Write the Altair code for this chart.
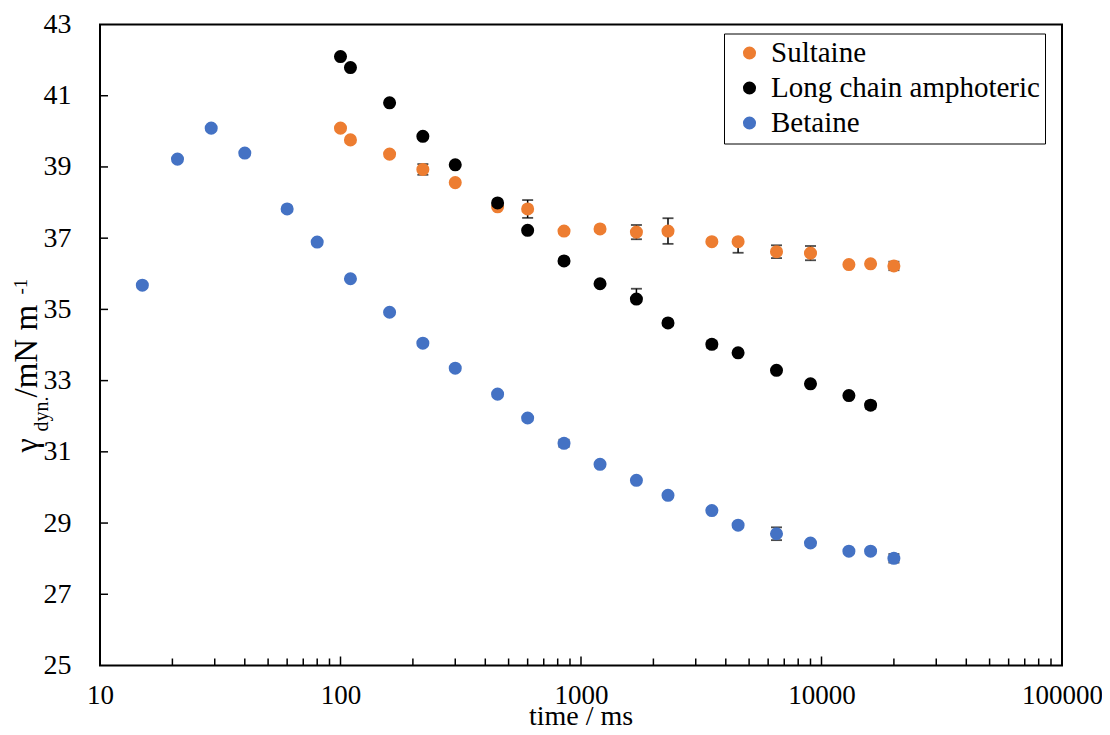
import altair as alt
import pandas as pd

# ---------------- data ----------------
series_names = ["Sultaine", "Long chain amphoteric", "Betaine"]
series_colors = ["#ED7D31", "#000000", "#4472C4"]

sult_time = [100, 110, 160, 220, 300, 450, 600, 850, 1200, 1700, 2300, 3500, 4500, 6500, 9000, 13000, 16000, 20000]
sult_gamma = [40.09, 39.76, 39.36, 38.93, 38.56, 37.88, 37.82, 37.20, 37.26, 37.17, 37.20, 36.90, 36.90, 36.62, 36.58, 36.26, 36.28, 36.22]

long_time = [100, 110, 160, 220, 300, 450, 600, 850, 1200, 1700, 2300, 3500, 4500, 6500, 9000, 13000, 16000]
long_gamma = [42.10, 41.79, 40.80, 39.86, 39.06, 37.99, 37.22, 36.36, 35.72, 35.29, 34.62, 34.02, 33.78, 33.29, 32.91, 32.58, 32.31]

bet_time = [15, 21, 29, 40, 60, 80, 110, 160, 220, 300, 450, 600, 850, 1200, 1700, 2300, 3500, 4500, 6500, 9000, 13000, 16000, 20000]
bet_gamma = [35.68, 39.22, 40.09, 39.39, 37.82, 36.89, 35.86, 34.92, 34.05, 33.35, 32.62, 31.95, 31.24, 30.65, 30.20, 29.78, 29.35, 28.94, 28.70, 28.44, 28.21, 28.21, 28.01]

err_series = ["Sultaine"] * 8 + ["Long chain amphoteric"] * 3 + ["Betaine"] * 3
err_time = [220, 600, 1700, 2300, 4500, 6500, 9000, 20000, 1700, 3500, 16000, 850, 6500, 20000]
err_low = [38.78, 37.57, 36.97, 36.84, 36.59, 36.44, 36.38, 36.10, 35.29, 33.92, 32.21, 31.14, 28.52, 27.89]
err_high = [39.08, 38.07, 37.37, 37.56, 36.90, 36.80, 36.78, 36.34, 35.58, 34.12, 32.41, 31.34, 28.88, 28.13]

x_major = [10, 100, 1000, 10000, 100000]
x_minor = [20, 30, 40, 50, 60, 70, 80, 90,
           200, 300, 400, 500, 600, 700, 800, 900,
           2000, 3000, 4000, 5000, 6000, 7000, 8000, 9000,
           20000, 30000, 40000, 50000, 60000, 70000, 80000, 90000]
x_inner_major = [100, 1000, 10000]
y_values = [25, 27, 29, 31, 33, 35, 37, 39, 41, 43]
y_inner = [27, 29, 31, 33, 35, 37, 39, 41]

x_title = "time / ms"

# ---------------- tables ----------------
rows = []
for name, ts, gs in zip(series_names, [sult_time, long_time, bet_time], [sult_gamma, long_gamma, bet_gamma]):
    for t, g in zip(ts, gs):
        rows.append({"series": name, "time": t, "gamma": g})
points = pd.DataFrame(rows)

centers = {(r["series"], r["time"]): r["gamma"] for r in rows}
err = pd.DataFrame({"series": err_series, "time": err_time, "gamma": err_low, "gamma2": err_high})
caps = []
for s, t, lo, hi in zip(err_series, err_time, err_low, err_high):
    c = centers[(s, t)]
    if lo < c - 0.005:
        caps.append({"time": t, "gamma": lo})
    if hi > c + 0.005:
        caps.append({"time": t, "gamma": hi})
caps = pd.DataFrame(caps)

minor_df = pd.DataFrame({"time": x_minor})
major_df = pd.DataFrame({"time": x_inner_major})
ytick_df = pd.DataFrame({"gamma": y_inner})

W, H = 962, 641
FONT = "Liberation Serif, Times New Roman, serif"

xscale = alt.Scale(type="log", domain=[10, 100000])
yscale = alt.Scale(domain=[25, 43], nice=False, zero=False)

xaxis = alt.Axis(values=x_major, format="d", ticks=False, tickSize=0, labelPadding=17,
                 labelFontSize=27, labelFont=FONT, title="", labelFlush=False)
yaxis = alt.Axis(values=y_values, ticks=False, tickSize=0, labelPadding=29, labelFontSize=28,
                 labelFont=FONT, labelBaseline="middle", title="")

X = alt.X("time:Q", scale=xscale, axis=xaxis)
Y = alt.Y("gamma:Q", scale=yscale, axis=yaxis)

err_rules = alt.Chart(err).mark_rule(color="black", strokeWidth=1.5).encode(
    x=X, y=Y, y2="gamma2:Q")
err_caps = alt.Chart(caps).mark_tick(color="black", orient="horizontal", size=11, thickness=1.8).encode(
    x=X, y=Y)

pts = alt.Chart(points).mark_point(filled=True, size=170, opacity=1, shape="circle").encode(
    x=X, y=Y,
    color=alt.Color("series:N",
                    scale=alt.Scale(domain=series_names, range=series_colors),
                    sort=series_names,
                    legend=alt.Legend(orient="none", legendX=624, legendY=9, title=None,
                                      labelFontSize=29, labelFont=FONT, labelLimit=500,
                                      symbolSize=170, symbolType="circle", symbolStrokeWidth=0,
                                      strokeColor="black", fillColor="white", padding=5,
                                      symbolOffset=6, labelOffset=7, rowPadding=5)),
)

minor_ticks = alt.Chart(minor_df).mark_rule(color="black", strokeWidth=1.5).encode(
    x=X, y=alt.value(H), y2=alt.value(H - 7))
major_ticks = alt.Chart(major_df).mark_rule(color="black", strokeWidth=1.5).encode(
    x=X, y=alt.value(H), y2=alt.value(H - 9))
y_ticks = alt.Chart(ytick_df).mark_rule(color="black", strokeWidth=1.5).encode(
    y=Y, x=alt.value(0), x2=alt.value(8))

one = alt.Data(values=[{"k": 1}])

# x-axis title
xt = alt.Chart(one).mark_text(text=x_title, font=FONT, fontSize=28, align="center",
                              baseline="alphabetic", color="black").encode(
    x=alt.value(W / 2), y=alt.value(H + 59))

# y-axis title with subscript and superscript
t1 = alt.Chart(one).mark_text(text="γ", font=FONT, fontSize=32, angle=270, align="left",
                              baseline="alphabetic", color="black").encode(x=alt.value(-63), y=alt.value(428))
t2 = alt.Chart(one).mark_text(text="dyn.", font=FONT, fontSize=20, angle=270, align="left",
                              baseline="alphabetic", color="black").encode(x=alt.value(-52), y=alt.value(407))
t3 = alt.Chart(one).mark_text(text=" /mN m", font=FONT, fontSize=33, angle=270, align="left",
                              baseline="alphabetic", color="black").encode(x=alt.value(-63), y=alt.value(373))
t4 = alt.Chart(one).mark_text(text="-1", font=FONT, fontSize=19, angle=270, align="left",
                              baseline="alphabetic", color="black").encode(x=alt.value(-73), y=alt.value(270))

chart = alt.layer(
    minor_ticks, major_ticks, y_ticks, err_rules, err_caps, pts, xt, t1, t2, t3, t4
).properties(
    width=W, height=H,
    autosize=alt.AutoSizeParams(type="none"),
    padding={"left": 92, "top": 16.5, "right": 40, "bottom": 61},
).configure(
    font=FONT,
).configure_view(
    stroke="black", strokeWidth=2, fill="white"
).configure_axis(
    domain=False, grid=False, labelColor="black", titleColor="black", labelFont=FONT, titleFont=FONT
).configure_legend(
    labelFont=FONT
).configure_text(
    font=FONT
)

chart.save("out.html", embed_options={"renderer": "svg", "actions": False})
